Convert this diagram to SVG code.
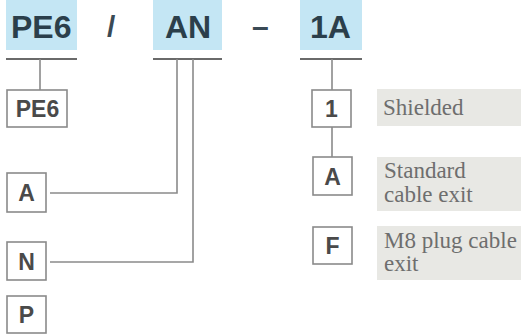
<svg xmlns="http://www.w3.org/2000/svg" width="521" height="335" viewBox="0 0 521 335">
<style>
.hl{fill:#c4e6f4}
.code{font-family:"Liberation Sans",Arial,sans-serif;font-weight:bold;font-size:32px;fill:#2b3f4b}
.sep{font-family:"Liberation Sans",Arial,sans-serif;font-weight:bold;font-size:30px;fill:#3a4a55}
.ul{stroke:#6a6a6a;stroke-width:2}
.box{fill:#fff;stroke:#8a8a8a;stroke-width:1.6}
.bt{font-family:"Liberation Sans",Arial,sans-serif;font-size:23px;font-weight:bold;fill:#4a4a4a;text-anchor:middle}
.lab{fill:#e8e8e4}
.lt{font-family:"Liberation Serif","Times New Roman",serif;font-size:23px;fill:#6e6e6e}
.con{stroke:#8a8a8a;stroke-width:1.6;fill:none}
</style>
<rect width="521" height="335" fill="#fff"/>
<g id="header">
<rect class="hl" x="6" y="0" width="71" height="50"/>
<text class="code" x="11" y="38">PE6</text>
<line class="ul" x1="6" y1="59" x2="77" y2="59"/>
<text class="sep" x="107" y="37">/</text>
<rect class="hl" x="153" y="0" width="69" height="50"/>
<text class="code" x="165" y="38">AN</text>
<line class="ul" x1="153" y1="59" x2="222" y2="59"/>
<text class="sep" x="252" y="37">–</text>
<rect class="hl" x="300" y="0" width="62" height="50"/>
<text class="code" x="310" y="38">1A</text>
<line class="ul" x1="300" y1="59" x2="362" y2="59"/>
</g>
<g id="connectors">
<polyline class="con" points="40,59 40,90"/>
<polyline class="con" points="177,59 177,193 50,193"/>
<polyline class="con" points="193,59 193,262 50,262"/>
<polyline class="con" points="332,59 332,90"/>
<polyline class="con" points="332,127 332,157"/>
</g>
<g id="node-PE6">
<rect class="box" x="7" y="90" width="60" height="37"/>
<text class="bt" x="37.5" y="117">PE6</text>
</g>
<g id="node-A-left">
<rect class="box" x="7" y="173" width="39" height="39"/>
<text class="bt" x="26.5" y="201">A</text>
</g>
<g id="node-N">
<rect class="box" x="7" y="242" width="39" height="38"/>
<text class="bt" x="26.5" y="269.5">N</text>
</g>
<g id="node-P">
<rect class="box" x="7" y="296" width="39" height="37"/>
<text class="bt" x="26.5" y="323">P</text>
</g>
<g id="node-1">
<rect class="box" x="312" y="90" width="39" height="37"/>
<text class="bt" x="331.5" y="117">1</text>
<rect class="lab" x="377" y="89" width="144" height="37"/>
<text class="lt" x="383" y="115">Shielded</text>
</g>
<g id="node-A-right">
<rect class="box" x="313" y="157" width="39" height="38"/>
<text class="bt" x="332.5" y="184.5">A</text>
<rect class="lab" x="377" y="157" width="144" height="54"/>
<text class="lt" x="384" y="178">Standard</text>
<text class="lt" x="384" y="202">cable exit</text>
</g>
<g id="node-F">
<rect class="box" x="313" y="227" width="39" height="37"/>
<text class="bt" x="332.5" y="254">F</text>
<rect class="lab" x="377" y="226" width="144" height="54"/>
<text class="lt" x="384" y="248">M8 plug cable</text>
<text class="lt" x="384" y="271">exit</text>
</g>
</svg>
